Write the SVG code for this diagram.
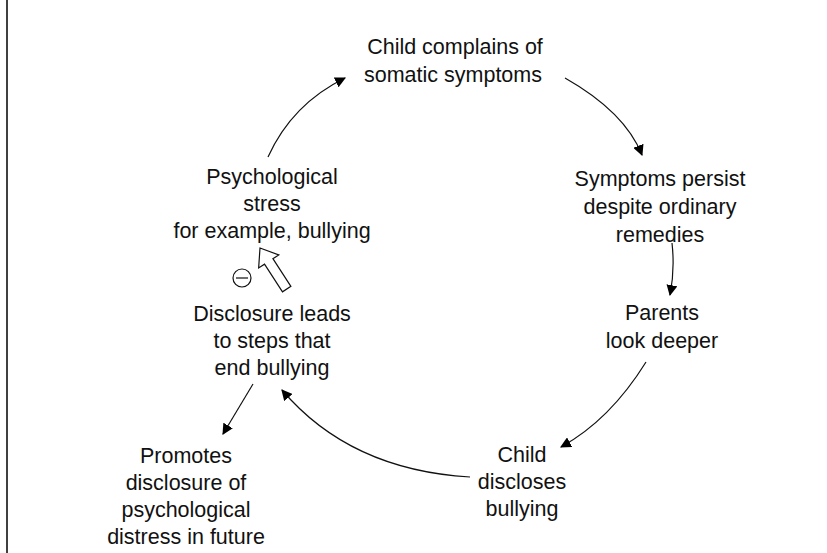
<svg xmlns="http://www.w3.org/2000/svg" width="827" height="553" viewBox="0 0 827 553">
<defs>
<marker id="ah" viewBox="0 0 10 10" refX="9" refY="5" markerWidth="11" markerHeight="11" markerUnits="userSpaceOnUse" orient="auto">
<path d="M0,0 L10,5 L0,10 Z" fill="#000"/>
</marker>
<style>
text{font-family:"Liberation Sans",Arial,sans-serif;font-size:21.5px;fill:#111;text-anchor:middle}
.c{fill:none;stroke:#111;stroke-width:1.2;marker-end:url(#ah)}
</style>
</defs>
<rect width="827" height="553" fill="#fff"/>
<line x1="7" y1="0" x2="7" y2="553" stroke="#000" stroke-width="1.5"/>
<g id="n1"><text x="455" y="54">Child complains of</text><text x="453" y="82">somatic symptoms</text></g>
<g id="n2"><text x="660" y="186">Symptoms persist</text><text x="660" y="214">despite ordinary</text><text x="660" y="242">remedies</text></g>
<g id="n3"><text x="662" y="320">Parents</text><text x="662" y="348">look deeper</text></g>
<g id="n4"><text x="522" y="462">Child</text><text x="522" y="489">discloses</text><text x="522" y="516">bullying</text></g>
<g id="n5"><text x="186" y="463">Promotes</text><text x="186" y="490">disclosure of</text><text x="186" y="517">psychological</text><text x="186" y="544">distress in future</text></g>
<g id="n6"><text x="272" y="321">Disclosure leads</text><text x="272" y="348">to steps that</text><text x="272" y="375">end bullying</text></g>
<g id="n7"><text x="272" y="184">Psychological</text><text x="272" y="211">stress</text><text x="272" y="238">for example, bullying</text></g>
<g id="inhibit">
<circle cx="242" cy="278" r="9" fill="none" stroke="#111" stroke-width="1.2"/>
<line x1="236" y1="278" x2="248" y2="278" stroke="#111" stroke-width="1.2"/>
<polygon points="0,0 12,16 5,16 5,49 -5,49 -5,16 -12,16" transform="translate(260,248) rotate(-33)" fill="#fff" stroke="#111" stroke-width="1.2"/>
</g>
<g id="connectors">
<path class="c" d="M268,157 Q292,104 345,78"/>
<path class="c" d="M565,78 Q625,112 642,155"/>
<path class="c" d="M672,243 Q675,270 670,295"/>
<path class="c" d="M646,362 Q610,420 561,447"/>
<path class="c" d="M470,477 Q350,470 282,390"/>
<path class="c" d="M253,384 L223,434"/>
</g>
</svg>
